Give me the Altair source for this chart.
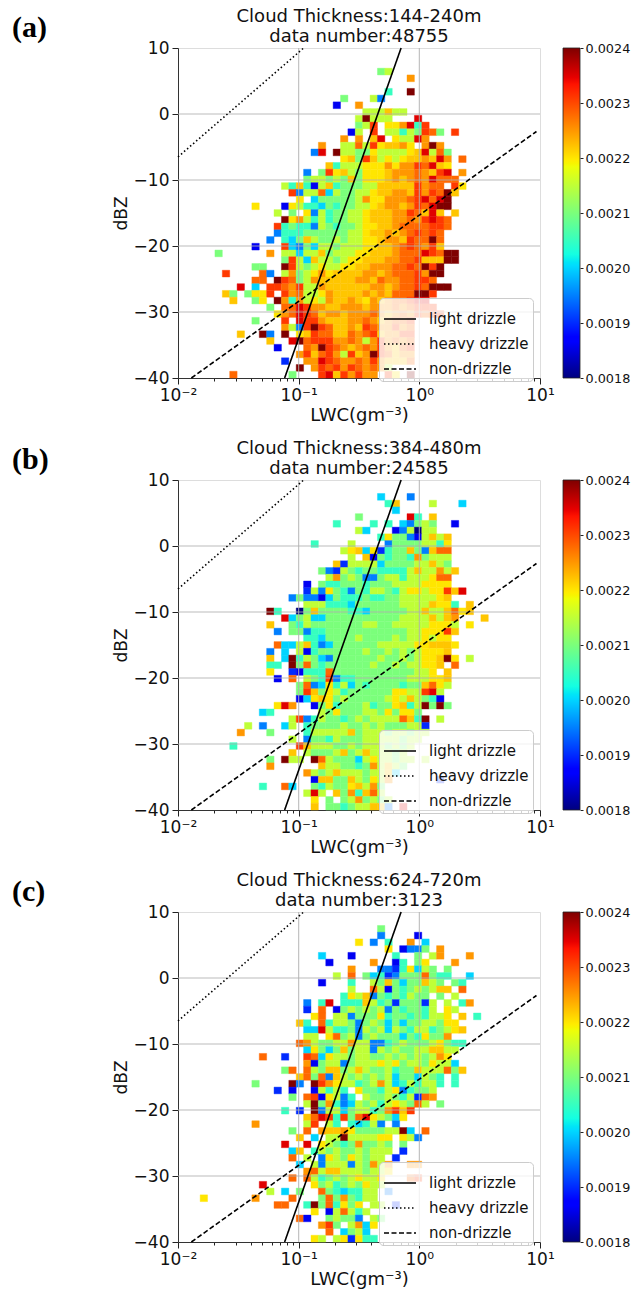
import altair as alt
import pandas as pd

# cell colour codes -> value
LEVELS = {"0": 0.00180, "1": 0.00186, "2": 0.00190, "3": 0.00195, "4": 0.00200, "5": 0.00205,
          "6": 0.00210, "7": 0.00215, "8": 0.00220, "y": 0.00222, "9": 0.00225, "o": 0.00228,
          "a": 0.00231, "b": 0.00235, "c": 0.00240}

# row index from the top of the panel: (first column, codes per column, "." is empty)
ROWS_A = {
 3:(27,"67"),4:(31,"9"),6:(28,"5..c"),7:(22,"6...73"),8:(21,"1..9"),9:(25,"777y77"),
 10:(24,"7c777...b"),11:(24,"67a.889b5a"),12:(23,"17.a.77576ao6.a"),13:(22,"9.9.yb.877b9"),
 14:(19,"9..77o7a8yy98.9c9"),15:(18,"3b.c7766877778yb7o6"),16:(22,"8y6ay7878yy9yb9.o"),
 17:(20,"y57778889899aoby8"),18:(17,"3.6a8y76888y999o9yab.9"),19:(17,"677676y6888y9y9o9booo"),
 20:(14,"75y517y566677yyyyya9oo.a8"),21:(15,"a377o4766778yy99ya9aocy"),22:(16,"8.4666667988999oabobc"),
 23:(10,"8...1875546566778y99y9aobcc"),24:(13,"7.6.837566778yyy99aoyby.y"),25:(14,"c89757566778yyy99o9abao"),
 26:(13,"a5655376566788yy9ooooaao"),27:(13,"3555666666778yy9y9oaoao"),28:(12,"3.546y766767788y99yaooco"),
 29:(10,"1...a436477677788yy9oao9ay"),30:(5,"6......9.77477y677788yyy9ooobaocc"),31:(14,"6a74y776788yyy99ooayyycc"),
 32:(10,"66..ca76787788yy999ooaocac"),33:(6,"a....o3.7967898yyyy99y9oooa9cc"),34:(10,"oo.cao679yyyyy99yo99ooaao"),
 35:(8,"b.4.aao9a779yyyyyy99y9ooaoccc"),36:(6,"y6.688a.a9o7789yyyy9y9yooocca"),37:(7,"y..68.c9597879yy9y89y9ooabb"),
 38:(12,"6.ooba99yy999y999o9oaaa"),39:(13,"89obaoy99y999o9y9o9aoaa"),40:(10,"6...a.baa9yyy99o9y9ooa"),
 41:(14,"973acaoyy9yao99a9o"),42:(8,"y..c3.c.8yaooyyo9oay99aa"),43:(12,"y..bcoaaa99o979a9o9o"),
 44:(13,"1...o9cao9y9o9a9yoa"),45:(16,"9ayoa97ay9caoy99"),46:(14,"2..99bao99o9a9yyyo"),
 47:(16,"c.9aoa9ao9o97"),48:(7,"o.......6...abya9a99.a8.c"),
}
ROWS_B = {
 2:(27,"4...3"),3:(28,"5y....7...4"),4:(29,"4"),5:(24,"6......b5.y"),6:(21,"5....5.5.43676..1"),
 7:(24,"74...137077"),8:(27,"5866317y7y"),9:(18,"5....7....366667758"),10:(22,"78y482566y63yoo"),
 11:(23,"7.y16566596777"),12:(21,"y277774666677y76"),13:(19,"6327656655557y7797y"),14:(20,"796763367757778oo"),
 15:(17,"1.655666566677778888"),16:(17,"2738653657765788788ayb"),17:(15,"363314655565566777778y"),
 18:(17,"77755546666667777y885.y"),19:(12,"c5..06y66665546666677y77yo8y"),20:(14,"b4674466666666667777y7y9...y"),
 21:(12,"y..6576666666776677777888"+"7.8"),22:(13,"3.6635566666666666"+"77888ay"),
 23:(17,"55466667666676778788"),24:(13,"o447y53466666677777"+"88yyy8"),25:(12,"3.4.71566"+"666676676767888y"),
 26:(12,"y.4c57643666666766767"+"88yc8.7"),27:(12,"55.c6o656666667667677"+"88y.o"),28:(12,"8..21555o666666666667"+"78.y"),
 29:(13,"1.o.765a355666666677"+"788y"),30:(16,"6o348574656666566"+"yo87"),31:(16,"6ay68756666668877"+"ab7"),
 32:(16,"148y86766666787y7651"),33:(13,"8b9..168566675668y57c6c6"),34:(11,"45......76866677686886"),
 35:(15,"7a3576656767777oy5c.7"),36:(9,"7.3..47.56666766767666772"),37:(8,"9...6....577777y6777677677"),
 38:(15,"7.3665766677777677"),39:(7,"5........ay77766767776767"),40:(15,"y.76667y67y77767"),
 41:(12,"6.c77.co766647877677.7"),42:(12,"9......y77665697y76"),43:(17,"9767y777677y4"),
 44:(18,"1yy66y76879......2"),45:(11,"5..o4..657668y796"),46:(17,"7b7.y695yo7"),
 47:(18,"8.6.6796767"),48:(18,"y.665677yy3.b"),
}
ROWS_C = {
 2:(27,"6"),3:(27,"3....1"),4:(24,"8.3.5..9.4"),5:(28,"8.1336.9"),6:(19,"4...1.....5..6.79...9"),
 7:(20,"1.....9..15.68...9"),8:(23,"9...33258476.6"),9:(21,"7.o.64523666o655..4"),10:(19,"1...5..76y6466y76.65"),
 11:(23,"7..o71656767yy.o"),12:(22,"587y36565766.6.7"),13:(17,"3.5b.555y756266627.7.59"),14:(17,"2.o.16767673656657.87"),
 15:(18,"8o.7736668566565778.y.5"),16:(16,"y5.o577636764646677688"),17:(17,"44b755637674765775678y"),
 18:(17,"77.8o673676664658669"),19:(16,"o9766779773356766678655"),20:(17,"48646y67737676677yy77"),
 21:(11,"o..2..ao487767766767676798"),22:(17,"916773677787867768774"),23:(14,"6o.o76yy67y7667566y777o6y"),
 24:(16,"yo6o3y76767674664765.5"),25:(10,"6....c3.ca9877567974575775.5"),26:(13,"2.1..17575.86657835667"),
 27:(15,"6.oa18735.76676572o9"),28:(17,"7c6953476757876o7.6"),29:(14,"5.2.c3774677569aya"),
 30:(17,"yoba5a6ob87648"),31:(10,"9......7a.75.54573.3"),32:(15,"6.o.9yy98666677c4.o"),
 33:(16,"y.4.77c777788.873"),34:(14,"b..b.8765696676.6"),35:(15,"4y.57676676777.2"),
 36:(15,"o.7.387687677.2"),37:(16,"4.73777376979..99"),38:(17,"9o7yy7776778"),
 39:(15,"o.o7567678778...oa"),40:(11,"b......8675676877"),41:(12,"7.4.6..o6545577.3"),
 42:(3,"8......9....o...6o696577"),43:(13,"oo..5c6o5868.77.2"),44:(18,"8.17o757"),
 45:(16,"o1..67663.76"),46:(19,"9a6.7948"),47:(20,"o.4674"),48:(18,"87.782855"),
}

PANELS = [("(a)", "Cloud Thickness:144-240m", "data number:48755", ROWS_A),
          ("(b)", "Cloud Thickness:384-480m", "data number:24585", ROWS_B),
          ("(c)", "Cloud Thickness:624-720m", "data number:3123", ROWS_C)]

N_BINS = 49
LINE_NAMES = ["light drizzle", "heavy drizzle", "non-drizzle"]
LINE_X = {"light drizzle": [0.0765, 0.706], "heavy drizzle": [0.01, 0.110], "non-drizzle": [0.0129, 9.35]}
LINE_Y = {"light drizzle": [-40, 10], "heavy drizzle": [-6.5, 10], "non-drizzle": [-40, -2.65]}
GRID_X = [0.1, 1]
GRID_Y = [-30, -20, -10, 0]
X_TICKS = [0.01, 0.02, 0.03, 0.04, 0.05, 0.06, 0.07, 0.08, 0.09,
           0.1, 0.2, 0.3, 0.4, 0.5, 0.6, 0.7, 0.8, 0.9,
           1, 2, 3, 4, 5, 6, 7, 8, 9, 10]
Y_TICKS = [-40, -30, -20, -10, 0, 10]
CBAR_TICKS = [0.0018, 0.0019, 0.0020, 0.0021, 0.0022, 0.0023, 0.0024]
JET_POS = [0, 0.11, 0.125, 0.34, 0.35, 0.375, 0.64, 0.65, 0.66, 0.89, 0.91, 1]
JET_COL = ["#00007f", "#0000ff", "#0000ff", "#00dbff", "#00e5f7", "#14ffe2",
           "#eeff08", "#f7f500", "#ffec00", "#ff1300", "#e80000", "#7f0000"]
V_MIN, V_MAX = 0.0018, 0.0024

FONT = "DejaVu Sans"
x_scale = alt.Scale(type="log", base=10, domain=[0.01, 10], nice=False)
y_scale = alt.Scale(domain=[-40, 10], nice=False)
color_scale = alt.Scale(domain=[V_MIN + (V_MAX - V_MIN) * p for p in JET_POS], range=JET_COL,
                        interpolate="rgb", clamp=True)
major_test = "indexof([0.01,0.1,1,10], datum.value) >= 0"
x_labels = ("datum.value==0.01?'10⁻²':datum.value==0.1?'10⁻¹':"
            "datum.value==1?'10⁰':datum.value==10?'10¹':''")
x_axis = alt.Axis(values=X_TICKS, labelExpr=x_labels, labelOverlap=False, labelFlush=False, labelBound=False,
                  grid=False, tickColor="#222", domainColor="#333", labelColor="#111",
                  tickSize={"condition": {"test": major_test, "value": 6}, "value": 3},
                  labelFontSize=17, titleFontSize=18, titleFontWeight="normal", titleColor="#111",
                  labelFont=FONT, titleFont=FONT, labelPadding=3, titlePadding=3)
X_TITLE = "LWC(gm⁻³)"


def cells(rows):
    rec = []
    for j, (start, codes) in rows.items():
        for k, ch in enumerate(codes):
            if ch == ".":
                continue
            i = start + k
            rec.append({
                "x0": 10 ** (-2 + 3 * i / N_BINS), "x1": 10 ** (-2 + 3 * (i + 1) / N_BINS),
                "y1": 10 - 50 * j / N_BINS, "y0": 10 - 50 * (j + 1) / N_BINS,
                "v": LEVELS[ch]})
    return pd.DataFrame(rec)


line_df = pd.DataFrame([{"name": n, "x": x, "y": y} for n in LINE_NAMES
                        for x, y in zip(LINE_X[n], LINE_Y[n])])


def panel(tag, t1, t2, rows):
    heat = alt.Chart(cells(rows)).mark_rect(strokeWidth=0.4).encode(
        x=alt.X("x0:Q", scale=x_scale, title=X_TITLE, axis=x_axis),
        x2="x1:Q",
        y=alt.Y("y0:Q", scale=y_scale, title="dBZ", axis=alt.Axis(
            values=Y_TICKS, grid=False, tickColor="#222", domainColor="#333", labelColor="#111",
            tickSize=6, labelFontSize=17, titleFontSize=17, titleFontWeight="normal", titleColor="#111",
            labelFont=FONT, titleFont=FONT, labelPadding=3, titlePadding=3, labelOverlap=False)),
        y2="y1:Q",
        color=alt.Color("v:Q", scale=color_scale, legend=None),
        stroke=alt.Color("v:Q", scale=color_scale, legend=None),
    )
    grid_v = alt.Chart(pd.DataFrame({"g": GRID_X})).mark_rule(color="#b0b0b0", strokeWidth=1.1, opacity=0.85).encode(
        x=alt.X("g:Q", scale=x_scale, title=X_TITLE, axis=x_axis))
    grid_h = alt.Chart(pd.DataFrame({"g": GRID_Y})).mark_rule(color="#b0b0b0", strokeWidth=1.1, opacity=0.85).encode(
        y=alt.Y("g:Q", scale=y_scale, axis=None))
    lines = alt.Chart(line_df).mark_line(color="black", strokeWidth=1.6).encode(
        x=alt.X("x:Q", scale=x_scale, title=X_TITLE, axis=x_axis),
        y=alt.Y("y:Q", scale=y_scale, axis=None),
        strokeDash=alt.StrokeDash("name:N", scale=alt.Scale(domain=LINE_NAMES, range=[[1, 0], [1.5, 2.5], [5, 2.5]]),
                                  sort=LINE_NAMES,
                                  legend=alt.Legend(title=None, orient="none", legendX=201, legendY=250,
                                                    fillColor="rgba(255,255,255,0.8)", strokeColor="#ccc",
                                                    cornerRadius=4, padding=4, labelFontSize=15, labelFont=FONT,
                                                    labelColor="#111", symbolType="stroke", symbolSize=1024,
                                                    symbolStrokeColor="black", symbolStrokeWidth=1.6,
                                                    labelOffset=12, rowPadding=-14)),
    )
    tag_text = alt.Chart(pd.DataFrame({"t": [tag]})).mark_text(
        font="Liberation Serif", fontWeight="bold", fontSize=30, align="left", baseline="middle", color="black"
    ).encode(text="t:N", x=alt.value(-166), y=alt.value(-20))

    cbar = alt.Chart(pd.DataFrame({"lo": [V_MIN], "hi": [V_MAX]})).mark_rect(
        stroke="#222", strokeWidth=0.8,
        fill=alt.LinearGradient(gradient="linear", x1=0, x2=0, y1=1, y2=0,
                                stops=[alt.GradientStop(color=c, offset=p) for p, c in zip(JET_POS, JET_COL)])
    ).encode(
        x=alt.value(385), x2=alt.value(402),
        y=alt.Y("lo:Q", scale=alt.Scale(domain=[V_MIN, V_MAX], nice=False), title=None, axis=alt.Axis(
            orient="right", offset=40, values=CBAR_TICKS, format=".4f", domain=False, grid=False,
            tickSize=3, tickColor="#222", labelFontSize=12.8, labelFont=FONT, labelColor="#111", labelPadding=2,
            labelOverlap=False)),
        y2="hi:Q",
    )
    return alt.layer(heat, grid_v, grid_h, lines, tag_text, cbar).resolve_scale(y="independent").properties(
        width=362, height=330,
        title=alt.TitleParams(text=[t1, t2], fontSize=18, fontWeight="normal", font=FONT, lineHeight=20,
                              anchor="middle", offset=-33, color="#111"))


chart = alt.vconcat(*[panel(*p) for p in PANELS], spacing=14).resolve_scale(
    strokeDash="independent", color="independent", stroke="independent"
).resolve_legend(strokeDash="independent").properties(
    padding={"left": 3, "top": -1, "right": 0, "bottom": 0}
).configure_view(stroke="#333", strokeWidth=1).configure(background="white")

chart.save("out.html", embed_options={"renderer": "svg", "actions": False})
